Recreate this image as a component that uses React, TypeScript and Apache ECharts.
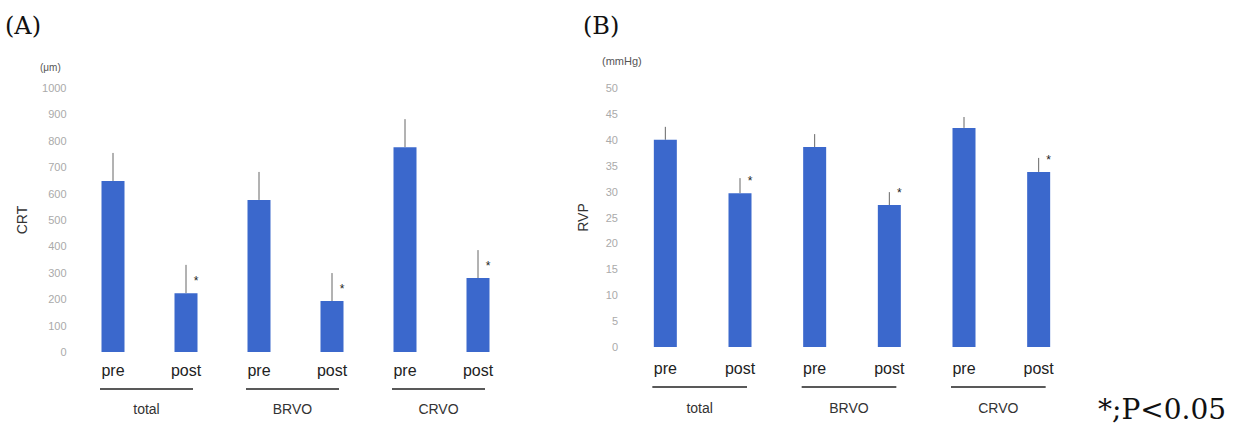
import React, { useEffect, useRef } from "react";
import * as echarts from "echarts";

// ---- data ----
const categories = ["pre", "post", "pre", "post", "pre", "post"];
const groups = ["total", "BRVO", "CRVO"];
const groupPairs = [[0, 1], [2, 3], [4, 5]];
const crtMean = [648, 223, 576, 193, 776, 280];
const crtUpper = [754, 330, 682, 299, 882, 386];
const rvpMean = [40.0, 29.7, 38.6, 27.4, 42.3, 33.8];
const rvpUpper = [42.5, 32.6, 41.1, 29.9, 44.4, 36.5];
const significant = [false, true, false, true, false, true];

const BAR = "#3b68cc";
const SANS = "Liberation Sans, Arial, sans-serif";
const SERIF = "DejaVu Serif, serif";

function errorSeries(axisIdx: number, mean: number[], upper: number[]) {
  return {
    type: "custom",
    xAxisIndex: axisIdx,
    yAxisIndex: axisIdx,
    data: mean.map((m, i) => [i, m, upper[i]]),
    encode: { x: 0, y: 1 },
    z: 1,
    renderItem: (params: any, api: any) => {
      const i = api.value(0);
      const p1 = api.coord([i, api.value(1)]);
      const p2 = api.coord([i, api.value(2)]);
      const children: any[] = [
        {
          type: "line",
          shape: { x1: p1[0], y1: p1[1], x2: p2[0], y2: p2[1] },
          style: { stroke: "#666", lineWidth: 1 },
        },
      ];
      if (significant[params.dataIndex]) {
        children.push({
          type: "text",
          x: p1[0] + 10,
          y: p1[1] - 12,
          style: {
            text: "*",
            fill: "#222",
            fontSize: 12,
            fontFamily: SANS,
            align: "center",
            verticalAlign: "middle",
          },
        });
      }
      return { type: "group", children };
    },
  };
}

function groupSeries(axisIdx: number, lineOff: number, textOff: number) {
  return {
    type: "custom",
    xAxisIndex: axisIdx,
    yAxisIndex: axisIdx,
    data: groupPairs.map((g) => [g[0], 0, g[1]]),
    encode: { x: 0, y: 1 },
    renderItem: (params: any, api: any) => {
      const s = api.value(0);
      const e = api.value(2);
      const ps = api.coord([s, 0]);
      const pe = api.coord([e, 0]);
      const xs = ps[0] - 13;
      const xe = pe[0] + 7;
      const y0 = ps[1];
      return {
        type: "group",
        children: [
          {
            type: "line",
            shape: { x1: xs, y1: y0 + lineOff, x2: xe, y2: y0 + lineOff },
            style: { stroke: "#222", lineWidth: 1.5 },
          },
          {
            type: "text",
            x: (xs + xe) / 2,
            y: y0 + textOff,
            style: {
              text: groups[params.dataIndex],
              fill: "#333",
              fontSize: 14,
              fontFamily: SANS,
              align: "center",
              verticalAlign: "middle",
            },
          },
        ],
      };
    },
  };
}

function xAxis(gridIndex: number, margin: number) {
  return {
    type: "category",
    gridIndex,
    data: categories,
    axisLine: { show: false },
    axisTick: { show: false },
    axisLabel: { color: "#222", fontSize: 16, fontFamily: SANS, margin },
  };
}

function yAxis(gridIndex: number, max: number, interval: number, name: string, gap: number, margin: number) {
  return {
    type: "value",
    gridIndex,
    min: 0,
    max,
    interval,
    name,
    nameLocation: "middle",
    nameGap: gap,
    nameRotate: 90,
    nameTextStyle: { color: "#333", fontSize: 14, fontFamily: SANS },
    axisLine: { show: false },
    axisTick: { show: false },
    splitLine: { show: false },
    axisLabel: {
      color: "#aaa",
      fontSize: 11,
      fontFamily: SANS,
      margin,
      formatter: (v: number) => String(v),
    },
  };
}

export default function App() {
  const ref = useRef<HTMLDivElement>(null);
  useEffect(() => {
    document.body.style.margin = "0";
    const chart = echarts.init(ref.current!, null, { renderer: "svg" });
    chart.setOption({
      animation: false,
      backgroundColor: "#ffffff",
      grid: [
        { left: 76.5, top: 88, width: 438, height: 264 },
        { left: 628, top: 88, width: 448, height: 259 },
      ],
      xAxis: [xAxis(0, 10), xAxis(1, 13)],
      yAxis: [
        yAxis(0, 1000, 100, "CRT", 48, 10),
        yAxis(1, 50, 5, "RVP", 38, 10),
      ],
      series: [
        {
          type: "bar",
          xAxisIndex: 0,
          yAxisIndex: 0,
          data: crtMean,
          barWidth: 23,
          itemStyle: { color: BAR },
          z: 2,
        },
        errorSeries(0, crtMean, crtUpper),
        groupSeries(0, 37, 57),
        {
          type: "bar",
          xAxisIndex: 1,
          yAxisIndex: 1,
          data: rvpMean,
          barWidth: 23,
          itemStyle: { color: BAR },
          z: 2,
        },
        errorSeries(1, rvpMean, rvpUpper),
        groupSeries(1, 40, 61),
      ],
      graphic: [
        {
          type: "text",
          left: 5,
          top: 14,
          style: { text: "(A)", fill: "#111", fontSize: 24, fontFamily: SERIF },
        },
        {
          type: "text",
          left: 583,
          top: 14,
          style: { text: "(B)", fill: "#111", fontSize: 24, fontFamily: SERIF },
        },
        {
          type: "text",
          left: 40,
          top: 62,
          style: { text: "(μm)", fill: "#555", fontSize: 10, fontFamily: SANS },
        },
        {
          type: "text",
          left: 602,
          top: 55,
          style: { text: "(mmHg)", fill: "#555", fontSize: 11, fontFamily: SANS },
        },
        {
          type: "text",
          left: 1098,
          top: 395,
          style: { text: "*;P<0.05", fill: "#111", fontSize: 28, fontFamily: SERIF },
        },
      ],
    });
    return () => chart.dispose();
  }, []);
  return (
    <div
      ref={ref}
      style={{ position: "fixed", left: 0, top: 0, width: 1236, height: 428 }}
    />
  );
}
